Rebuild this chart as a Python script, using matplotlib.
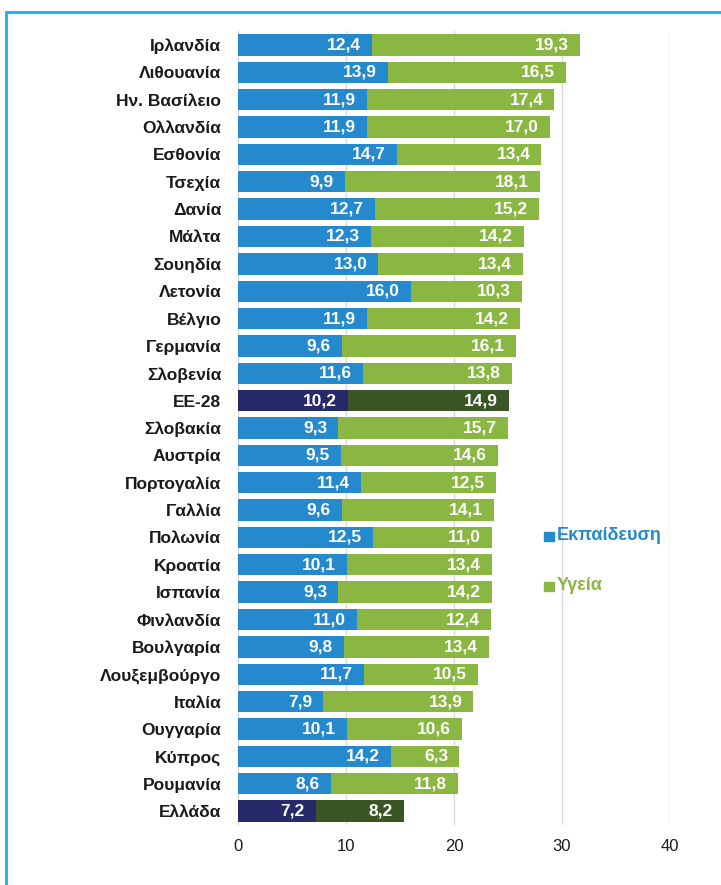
import matplotlib
matplotlib.use("Agg")
import matplotlib.pyplot as plt
from matplotlib.patches import Rectangle
import numpy as np

plt.rcParams['font.family'] = ['Liberation Sans', 'DejaVu Sans']

countries = ["Ιρλανδία", "Λιθουανία", "Ην. Βασίλειο", "Ολλανδία", "Εσθονία", "Τσεχία",
             "Δανία", "Μάλτα", "Σουηδία", "Λετονία", "Βέλγιο", "Γερμανία", "Σλοβενία",
             "ΕΕ-28", "Σλοβακία", "Αυστρία", "Πορτογαλία", "Γαλλία", "Πολωνία", "Κροατία",
             "Ισπανία", "Φινλανδία", "Βουλγαρία", "Λουξεμβούργο", "Ιταλία", "Ουγγαρία",
             "Κύπρος", "Ρουμανία", "Ελλάδα"]
education = [12.4, 13.9, 11.9, 11.9, 14.7, 9.9, 12.7, 12.3, 13.0, 16.0, 11.9, 9.6, 11.6,
             10.2, 9.3, 9.5, 11.4, 9.6, 12.5, 10.1, 9.3, 11.0, 9.8, 11.7, 7.9, 10.1,
             14.2, 8.6, 7.2]
health = [19.3, 16.5, 17.4, 17.0, 13.4, 18.1, 15.2, 14.2, 13.4, 10.3, 14.2, 16.1, 13.8,
          14.9, 15.7, 14.6, 12.5, 14.1, 11.0, 13.4, 14.2, 12.4, 13.4, 10.5, 13.9, 10.6,
          6.3, 11.8, 8.2]
highlighted = ["ΕΕ-28", "Ελλάδα"]
x_ticks = [0, 10, 20, 30, 40]
legend_labels = ["Εκπαίδευση", "Υγεία"]

BLUE = "#2589CD"
GREEN = "#8AB642"
NAVY = "#262A69"
DKGREEN = "#3A5624"

W, H = 721, 885
fig = plt.figure(figsize=(W / 100, H / 100), dpi=100)
ax = fig.add_axes([238 / W, 1 - 824.7 / H, (670 - 238) / W, (824.7 - 31.3) / H])

y = np.arange(len(countries))
edu_colors = [NAVY if c in highlighted else BLUE for c in countries]
hea_colors = [DKGREEN if c in highlighted else GREEN for c in countries]

bars_e = ax.barh(y, education, height=0.78, color=edu_colors, zorder=3)
bars_h = ax.barh(y, health, left=education, height=0.78, color=hea_colors, zorder=3)

for vals, lefts in ((education, [0] * len(education)), (health, education)):
    for yi, v, l in zip(y, vals, lefts):
        ax.annotate(f"{v:.1f}".replace(".", ","), xy=(l + v, yi), xytext=(-8, 0),
                    textcoords="offset points", ha="right", va="center",
                    color="white", fontsize=12.5, fontweight="bold", zorder=4)

ax.set_xlim(0, 40)
ax.set_ylim(len(countries) - 0.5, -0.5)
ax.set_xticks(x_ticks)
ax.set_xticklabels([str(t) for t in x_ticks], fontsize=12, color="#1a1a1a")
ax.set_yticks(y)
ax.set_yticklabels(countries, fontsize=12.5, fontweight="bold", color="#1a1a1a")
ax.tick_params(axis="x", length=0, pad=10)
ax.tick_params(axis="y", length=0, pad=12)
ax.grid(axis="x", color="#d9d9d9", linewidth=1, zorder=0)
for s in ax.spines.values():
    s.set_visible(False)

# legend entries: coloured squares with coloured text
for label, color, ypix in zip(legend_labels, [BLUE, GREEN], [536, 586]):
    fig.patches.append(Rectangle((544 / W, 1 - (ypix + 5) / H), 9.5 / W, 9.5 / H,
                                 transform=fig.transFigure, color=color, figure=fig))
    fig.text(557 / W, 1 - ypix / H, label, color=color, fontsize=13,
             fontweight="bold", va="center", ha="left")

# outer frame
fig.patches.append(Rectangle((5.5 / W, -0.1), 1.2, 1 - 12 / H + 0.1,
                             transform=fig.transFigure, fill=False,
                             edgecolor="#1DAEE8", linewidth=2, figure=fig))

fig.savefig("out.png", dpi=100)
